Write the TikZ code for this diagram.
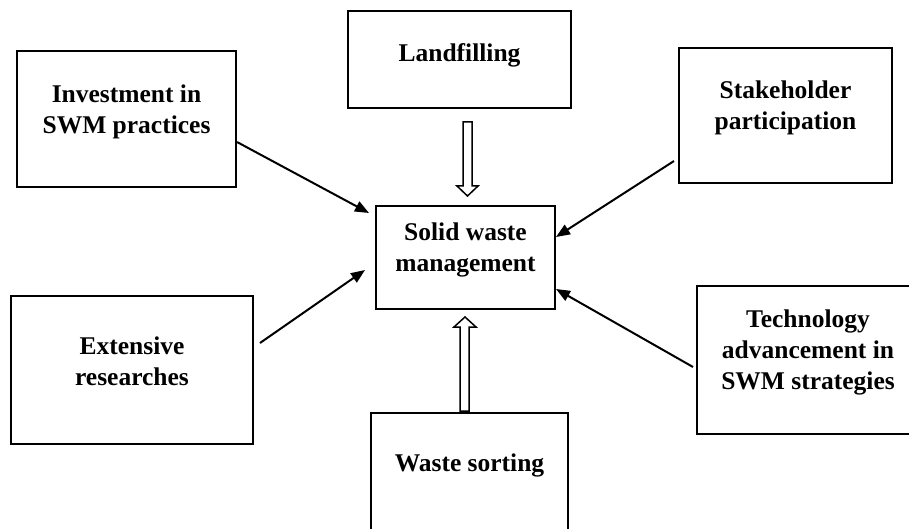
\documentclass[tikz,border=0pt]{standalone}
\usepackage{fontspec}
\setmainfont{Liberation Serif}
\usetikzlibrary{arrows.meta}
\begin{document}
\begin{tikzpicture}[x=1pt,y=-1pt,
  box/.style={draw=black,line width=2pt,fill=none,inner sep=0pt},
  lbl/.style={align=center,font=\fontsize{25.5}{31}\selectfont\bfseries,text=black,inner sep=0pt},
  conn/.style={draw=black,line width=2pt,-{Triangle[length=14pt,width=11pt]}},
  hollow/.style={draw=black,line width=1.5pt,fill=white,line join=miter}]
\useasboundingbox (0,0) rectangle (909,529);
\clip (0,0) rectangle (909,529);
% boxes
\node[box,minimum width=223pt,minimum height=97pt] (land) at (459.5,59.5) {};
\node[lbl] (landT) at (459.5,55) {Landfilling};
\node[box,minimum width=219pt,minimum height=136pt] (inv) at (126.5,119) {};
\node[lbl] (invT) at (126.5,111.5) {Investment in\\SWM practices};
\node[box,minimum width=213pt,minimum height=135pt] (stake) at (785.5,115.5) {};
\node[lbl] (stakeT) at (785.5,107.5) {Stakeholder\\participation};
\node[box,minimum width=179pt,minimum height=103pt] (swm) at (465.5,257.5) {};
\node[lbl] (swmT) at (465.5,250) {Solid waste\\management};
\node[box,minimum width=242pt,minimum height=148pt] (ext) at (132,370) {};
\node[lbl] (extT) at (132,361.5) {Extensive\\researches};
\node[box,minimum width=222pt,minimum height=148pt] (tech) at (808,360) {};
\node[lbl] (techT) at (808,352) {Technology\\advancement in\\SWM strategies};
\node[box,minimum width=197pt,minimum height=147pt] (sort) at (469.5,486.5) {};
\node[lbl] (sortT) at (469.5,465) {Waste sorting};
% connector end points
\coordinate (invS) at (237,142);
\coordinate (invE) at (369,213);
\coordinate (stakeS) at (674,161);
\coordinate (stakeE) at (556,237);
\coordinate (extS) at (260,343);
\coordinate (extE) at (365,270);
\coordinate (techS) at (693,367);
\coordinate (techE) at (556,289);
\draw[conn] (invS) -- (invE);
\draw[conn] (stakeS) -- (stakeE);
\draw[conn] (extS) -- (extE);
\draw[conn] (techS) -- (techE);
% hollow arrows
\draw[hollow] (463,122) -- (472,122) -- (472,186) -- (478,186) -- (467.5,196)
  -- (457,186) -- (463,186) -- cycle;
\draw[hollow] (460,411) -- (469,411) -- (469,327) -- (476,327) -- (465,317)
  -- (454,327) -- (460,327) -- cycle;
\end{tikzpicture}
\end{document}
